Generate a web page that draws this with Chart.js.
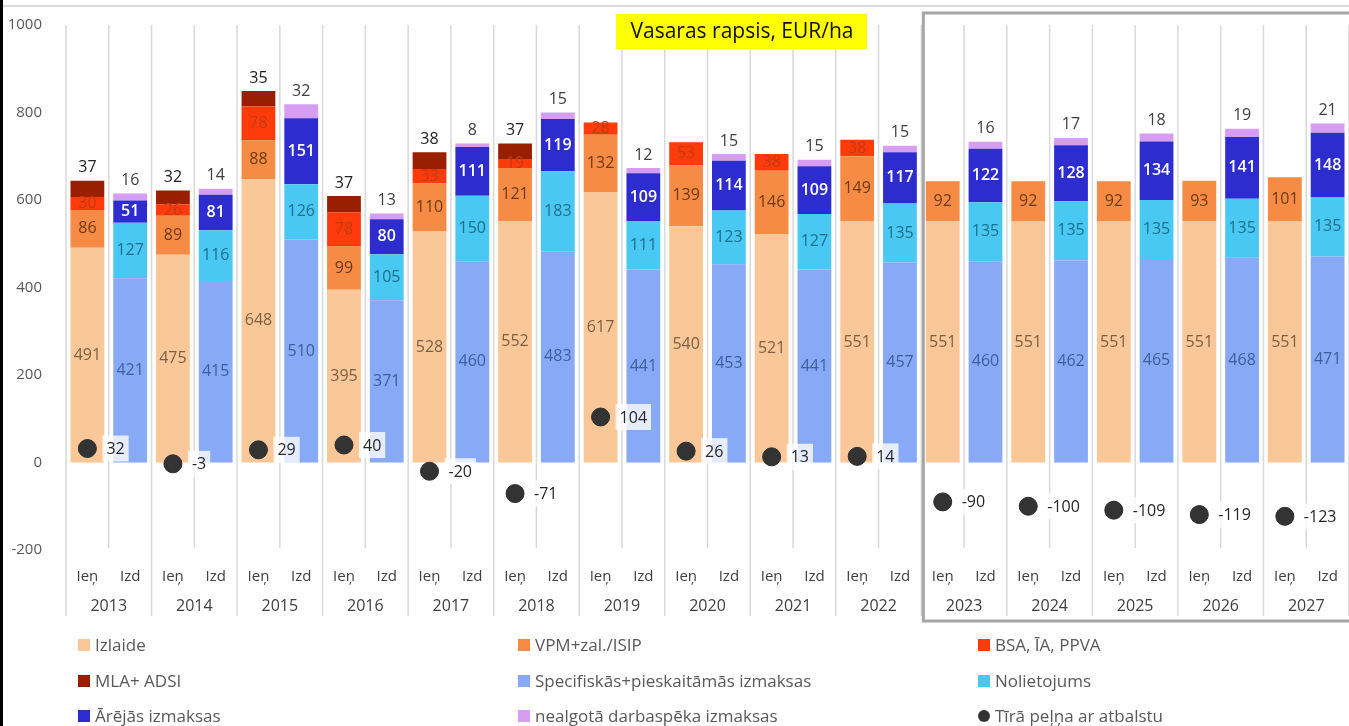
<!DOCTYPE html>
<html>
<head>
<meta charset="utf-8">
<script src="https://cdn.jsdelivr.net/npm/chart.js@4"></script>
<style>
  body { margin: 0; background: #fff; }
  #c { display: block; }
</style>
</head>
<body>
<canvas id="c" width="1349" height="726"></canvas>
<script>
var years = ['2013','2014','2015','2016','2017','2018','2019','2020','2021','2022','2023','2024','2025','2026','2027'];
var subLabels = ['Ieņ', 'Izd'];

// Ieņēmumi
var izlaide = [491,475,648,395,528,552,617,540,521,551,551,551,551,551,551];
var vpm     = [86,89,88,99,110,121,132,139,146,149,92,92,92,93,101];
var bsa     = [30,26,78,78,33,19,28,53,38,38,null,null,null,null,null];
var mla     = [37,32,35,37,38,37,null,null,null,null,null,null,null,null,null];
// Izdevumi
var specif  = [421,415,510,371,460,483,441,453,441,457,460,462,465,468,471];
var noliet  = [127,116,126,105,150,183,111,123,127,135,135,135,135,135,135];
var arejas  = [51,81,151,80,111,119,109,114,109,117,122,128,134,141,148];
var nealg   = [16,14,32,13,8,15,12,15,15,15,16,17,18,19,21];
// Tīrā peļņa
var pelna   = [32,-3,29,40,-20,-71,104,26,13,14,-90,-100,-109,-119,-123];

var FONT = "'Open Sans', sans-serif";

var labels = [];
years.forEach(function () { labels.push(subLabels[0], subLabels[1]); });

function ien(arr) { var r = []; arr.forEach(function (v) { r.push(v, null); }); return r; }
function izd(arr) { var r = []; arr.forEach(function (v) { r.push(null, v); }); return r; }

function barSet(name, arr, side, color, lblColor, lblPos, bold) {
  return {
    type: 'bar', label: name, data: side === 0 ? ien(arr) : izd(arr),
    backgroundColor: color, stack: 'a', order: 1,
    barPercentage: 0.79, categoryPercentage: 1,
    lblColor: lblColor, lblPos: lblPos, lblBold: bold
  };
}

var datasets = [
  barSet('Izlaide', izlaide, 0, '#FAC898', '#7d5f45', 'in', false),
  barSet('VPM+zal./ISIP', vpm, 0, '#F68B45', '#6e3a12', 'in', false),
  barSet('BSA, ĪA, PPVA', bsa, 0, '#FF3B0C', '#c23a10', 'in', false),
  barSet('MLA+ ADSI', mla, 0, '#9A1F02', '#222222', 'top', false),
  barSet('Specifiskās+pieskaitāmās izmaksas', specif, 1, '#88A9F6', '#3d5f9e', 'in', false),
  barSet('Nolietojums', noliet, 1, '#49C8F4', '#1d6f8c', 'in', false),
  barSet('Ārējās izmaksas', arejas, 1, '#2C2CCF', '#ffffff', 'in', true),
  barSet('nealgotā darbaspēka izmaksas', nealg, 1, '#D69DF3', '#404040', 'top', false),
  {
    type: 'line', label: 'Tīrā peļņa ar atbalstu', data: ien(pelna),
    showLine: false, stack: 'p', order: 0,
    pointRadius: 9, pointHoverRadius: 9,
    pointBackgroundColor: '#333333', pointBorderColor: '#2a2a2a', pointBorderWidth: 1,
    backgroundColor: '#333333', borderColor: '#333333'
  }
];

var decor = {
  id: 'decor',
  beforeDatasetsDraw: function (chart) {
    var ctx = chart.ctx, x = chart.scales.x, a = chart.chartArea;
    var w = x.getPixelForValue(1) - x.getPixelForValue(0);
    ctx.save();
    ctx.strokeStyle = '#d9d9d9';
    ctx.lineWidth = 1.5;
    for (var i = 0; i <= labels.length; i++) {
      var px = x.getPixelForValue(0) - w / 2 + i * w;
      ctx.beginPath();
      ctx.moveTo(px, a.top);
      ctx.lineTo(px, i % 2 === 0 ? 616 : a.bottom - 2);
      ctx.stroke();
    }
    ctx.restore();
  },
  afterDatasetsDraw: function (chart) {
    var ctx = chart.ctx, x = chart.scales.x, a = chart.chartArea;
    ctx.save();
    ctx.textAlign = 'center';
    ctx.textBaseline = 'middle';
    chart.data.datasets.forEach(function (ds, di) {
      var meta = chart.getDatasetMeta(di);
      meta.data.forEach(function (el, i) {
        var v = ds.data[i];
        if (v === null || v === undefined) return;
        if (ds.type === 'line') {
          var t = String(v);
          ctx.font = '16px ' + FONT;
          var tw = ctx.measureText(t).width;
          var lx = el.x + 18;
          ctx.fillStyle = 'rgba(255,255,255,0.78)';
          ctx.fillRect(lx - 3, el.y - 13, tw + 8, 26);
          ctx.fillStyle = '#262626';
          ctx.textAlign = 'left';
          ctx.fillText(t, lx + 1, el.y + 1);
          ctx.textAlign = 'center';
          return;
        }
        ctx.font = (ds.lblBold ? '600 ' : '') + '16px ' + FONT;
        ctx.fillStyle = ds.lblColor;
        var y = ds.lblPos === 'top' ? el.y - 13 : (el.y + el.base) / 2;
        ctx.fillText(String(v), el.x, y);
      });
    });
    // gada etiķetes
    ctx.font = '16px ' + FONT;
    ctx.fillStyle = '#404040';
    years.forEach(function (yr, k) {
      var cx = (x.getPixelForValue(2 * k) + x.getPixelForValue(2 * k + 1)) / 2;
      ctx.fillText(yr, cx, 606);
    });
    // prognozes rāmis
    var w = x.getPixelForValue(1) - x.getPixelForValue(0);
    var bx = x.getPixelForValue(20) - w / 2 + 2;
    ctx.strokeStyle = '#a6a6a6';
    ctx.lineWidth = 3;
    ctx.strokeRect(bx, 13, 1355 - bx, 608);
    ctx.restore();
  },
  afterDraw: function (chart) {
    var ctx = chart.ctx;
    ctx.save();
    // augšējā līnija un kreisā mala
    ctx.strokeStyle = '#d0d0d0';
    ctx.lineWidth = 1.5;
    ctx.beginPath(); ctx.moveTo(0, 6); ctx.lineTo(1349, 6); ctx.stroke();
    ctx.fillStyle = '#000';
    ctx.fillRect(0, 0, 3, 726);
    // virsraksts
    ctx.fillStyle = '#FFFF00';
    ctx.fillRect(616, 14, 251, 35);
    ctx.fillStyle = '#111';
    ctx.font = '21px ' + FONT;
    ctx.textAlign = 'center';
    ctx.textBaseline = 'middle';
    ctx.fillText('Vasaras rapsis, EUR/ha', 742, 32);
    // leģenda
    var colX = [78, 518, 978], rowY = [645, 681, 716];
    ctx.font = '17px ' + FONT;
    ctx.textAlign = 'left';
    chart.data.datasets.forEach(function (ds, i) {
      var cx = colX[i % 3], cy = rowY[Math.floor(i / 3)];
      ctx.fillStyle = ds.backgroundColor;
      if (ds.type === 'line') {
        ctx.beginPath(); ctx.arc(cx + 6, cy, 6, 0, Math.PI * 2); ctx.fill();
      } else {
        ctx.fillRect(cx, cy - 6, 12, 12);
      }
      ctx.fillStyle = '#595959';
      ctx.fillText(ds.label, cx + 17, cy + 1);
    });
    ctx.restore();
  }
};

new Chart(document.getElementById('c'), {
  type: 'bar',
  data: { labels: labels, datasets: datasets },
  options: {
    responsive: false,
    animation: false,
    devicePixelRatio: 1,
    layout: { autoPadding: false, padding: { top: 21, left: 0, right: 0, bottom: 106 } },
    plugins: { legend: { display: false }, tooltip: { enabled: false } },
    scales: {
      x: {
        stacked: true,
        offset: true,
        grid: { display: false },
        border: { display: false },
        ticks: { color: '#404040', font: { size: 15, family: FONT }, padding: 10, autoSkip: false, maxRotation: 0 },
        afterFit: function (s) { s.height = 70; s.paddingLeft = 0; s.paddingRight = 0; }
      },
      y: {
        stacked: true,
        min: -200, max: 1000,
        grid: { display: false },
        border: { display: false },
        ticks: {
          stepSize: 200, color: '#595959', font: { size: 15, family: FONT }, padding: 16,
          callback: function (v) { return String(v); }
        },
        afterFit: function (s) { s.width = 66; }
      }
    }
  },
  plugins: [decor]
});
</script>
</body>
</html>
